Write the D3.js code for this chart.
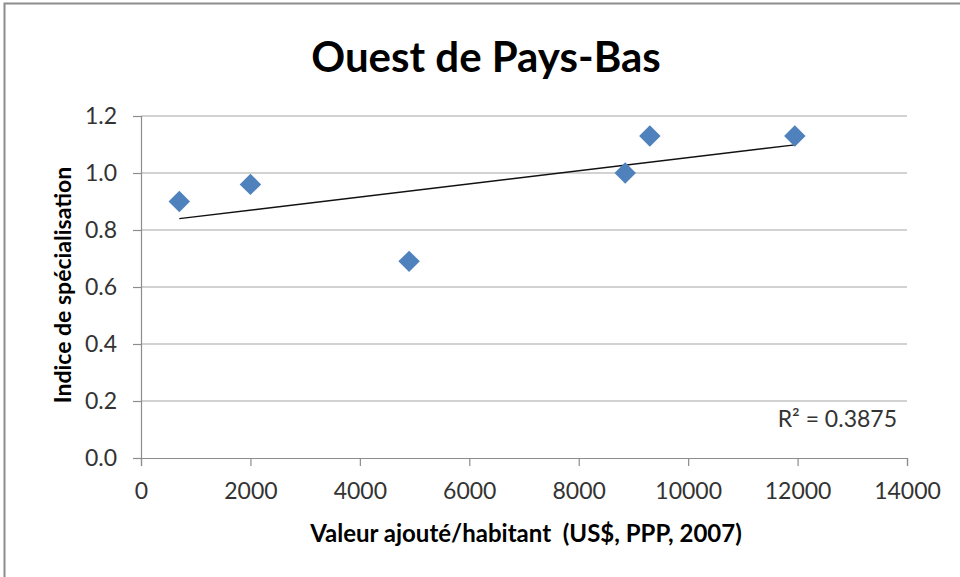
<!DOCTYPE html>
<html>
<head>
<meta charset="utf-8">
<script src="https://d3js.org/d3.v7.min.js"></script>
<style>
  body { margin: 0; background: #fff; }
  svg { display: block; font-family: Lato, "Open Sans", sans-serif; }
</style>
</head>
<body>
<svg width="960" height="577"></svg>
<script>
const valeurAjoutee = [700, 2000, 4900, 8850, 9300, 11950];
const indice = [0.90, 0.96, 0.69, 1.00, 1.13, 1.13];
const xTicks = [0, 2000, 4000, 6000, 8000, 10000, 12000, 14000];
const yTicks = [0, 0.2, 0.4, 0.6, 0.8, 1.0, 1.2];
const r2Label = 'R² = 0.3875';

const svg = d3.select('svg');
const plotLeft = 141, plotRight = 907, plotTop = 116, plotBottom = 458;

// chart frame
svg.append('rect')
    .attr('x', 4.5).attr('y', 3.5)
    .attr('width', 970).attr('height', 590)
    .attr('fill', 'none')
    .attr('stroke', '#8c8c8c')
    .attr('stroke-width', 2);

const x = d3.scaleLinear().domain([0, 14000]).range([plotLeft, plotRight]);
const y = d3.scaleLinear().domain([0, 1.2]).range([plotBottom, plotTop]);

// horizontal gridlines
svg.append('g')
    .selectAll('line')
    .data(yTicks.slice(1))
    .join('line')
    .attr('x1', plotLeft).attr('x2', plotRight)
    .attr('y1', (d) => y(d)).attr('y2', (d) => y(d))
    .attr('stroke', '#a6a6a6')
    .attr('stroke-width', 1.2);

const yAxis = svg.append('g')
    .attr('transform', `translate(${plotLeft},0)`)
    .call(d3.axisLeft(y).tickValues(yTicks).tickFormat(d3.format('.1f')).tickSize(8).tickPadding(16));

const xAxis = svg.append('g')
    .attr('transform', `translate(0,${plotBottom})`)
    .call(d3.axisBottom(x).tickValues(xTicks).tickFormat(d3.format('d')).tickSize(8).tickPadding(17));

[yAxis, xAxis].forEach((g) => {
    g.select('.domain').attr('stroke', '#8c8c8c').attr('stroke-width', 1.2);
    g.selectAll('.tick line').attr('stroke', '#8c8c8c').attr('stroke-width', 1.2);
    g.selectAll('.tick text')
        .attr('fill', '#333')
        .style('font-size', '23px')
        .style('font-family', 'Lato, "Open Sans", sans-serif');
});

// linear trendline (least squares)
const n = valeurAjoutee.length;
const mx = d3.mean(valeurAjoutee), my = d3.mean(indice);
let sxy = 0, sxx = 0;
for (let i = 0; i < n; i++) {
    sxy += (valeurAjoutee[i] - mx) * (indice[i] - my);
    sxx += (valeurAjoutee[i] - mx) ** 2;
}
const slope = sxy / sxx;
const intercept = my - slope * mx;
const [x0, x1] = d3.extent(valeurAjoutee);

svg.append('line')
    .attr('x1', x(x0)).attr('y1', y(intercept + slope * x0))
    .attr('x2', x(x1)).attr('y2', y(intercept + slope * x1))
    .attr('stroke', '#111')
    .attr('stroke-width', 1.3);

// diamond markers
const diamond = d3.symbol().type(d3.symbolSquare).size(230);
svg.append('g')
    .selectAll('path')
    .data(valeurAjoutee.map((v, i) => [v, indice[i]]))
    .join('path')
    .attr('d', diamond)
    .attr('transform', (d) => `translate(${x(d[0])},${y(d[1])}) rotate(45)`)
    .attr('fill', '#4f81bd');

svg.append('text')
    .attr('x', 897).attr('y', 427)
    .attr('text-anchor', 'end')
    .attr('fill', '#333')
    .style('font-size', '23px')
    .text(r2Label);

// titles
svg.append('text')
    .attr('x', 486).attr('y', 72)
    .attr('text-anchor', 'middle')
    .style('font-size', '42px')
    .style('font-weight', 'bold')
    .text('Ouest de Pays-Bas');

svg.append('text')
    .attr('x', 526).attr('y', 542)
    .attr('text-anchor', 'middle')
    .style('font-size', '24px')
    .style('font-weight', 'bold')
    .style('white-space', 'pre')
    .text('Valeur ajouté/habitant  (US$, PPP, 2007)');

svg.append('text')
    .attr('transform', 'translate(71,285) rotate(-90)')
    .attr('text-anchor', 'middle')
    .style('font-size', '23px')
    .style('font-weight', 'bold')
    .text('Indice de spécialisation');
</script>
</body>
</html>
